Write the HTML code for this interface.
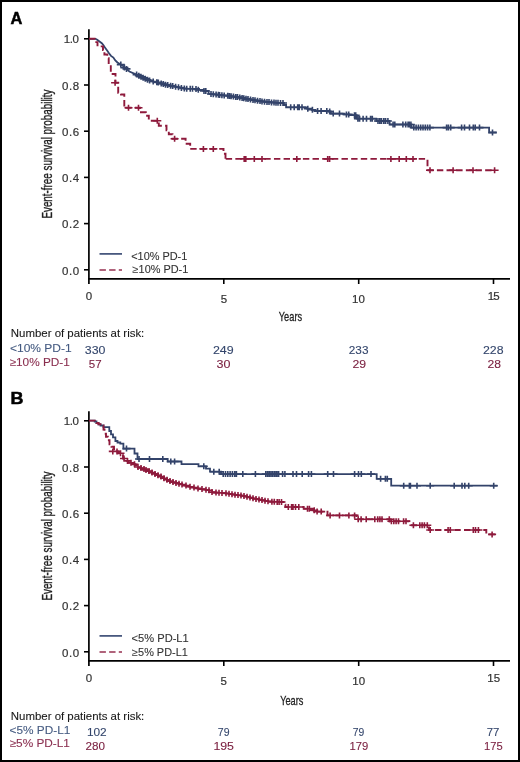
<!DOCTYPE html>
<html><head><meta charset="utf-8"><style>
html,body{margin:0;padding:0;background:#fff;}
body{width:520px;height:762px;overflow:hidden;}
svg{display:block;font-family:"Liberation Sans",sans-serif;will-change:transform;}
</style></head><body>
<svg width="520" height="762" viewBox="0 0 520 762">
<rect x="0" y="0" width="520" height="762" fill="#fff"/>
<path d="M88.9,29.2V284" stroke="#000" stroke-width="1.7" fill="none"/>
<path d="M88,278.9H510" stroke="#000" stroke-width="1.8" fill="none"/>
<path d="M84,269.8H89" stroke="#000" stroke-width="1.6" fill="none"/>
<path d="M84,223.6H89" stroke="#000" stroke-width="1.6" fill="none"/>
<path d="M84,177.4H89" stroke="#000" stroke-width="1.6" fill="none"/>
<path d="M84,131.2H89" stroke="#000" stroke-width="1.6" fill="none"/>
<path d="M84,85H89" stroke="#000" stroke-width="1.6" fill="none"/>
<path d="M84,38.8H89" stroke="#000" stroke-width="1.6" fill="none"/>
<path d="M223.8,279V284" stroke="#000" stroke-width="1.6" fill="none"/>
<path d="M358.7,279V284" stroke="#000" stroke-width="1.6" fill="none"/>
<path d="M493.5,279V284" stroke="#000" stroke-width="1.6" fill="none"/>
<text x="62.10" y="274.55" font-size="11.5" fill="#333" stroke="#333" stroke-width="0.2" textLength="17.00" lengthAdjust="spacing">0.0</text>
<text x="62.10" y="228.35" font-size="11.5" fill="#333" stroke="#333" stroke-width="0.2" textLength="17.00" lengthAdjust="spacing">0.2</text>
<text x="62.10" y="182.15" font-size="11.5" fill="#333" stroke="#333" stroke-width="0.2" textLength="17.00" lengthAdjust="spacing">0.4</text>
<text x="62.10" y="135.95" font-size="11.5" fill="#333" stroke="#333" stroke-width="0.2" textLength="17.00" lengthAdjust="spacing">0.6</text>
<text x="62.10" y="89.75" font-size="11.5" fill="#333" stroke="#333" stroke-width="0.2" textLength="17.00" lengthAdjust="spacing">0.8</text>
<text x="63.80" y="42.85" font-size="11.5" fill="#333" stroke="#333" stroke-width="0.2" textLength="15.00" lengthAdjust="spacing">1.0</text>
<text transform="translate(52.30,218.60) rotate(-90)" font-size="14" fill="#222" stroke="#222" stroke-width="0.35" textLength="129.00" lengthAdjust="spacingAndGlyphs">Event-free survival probability</text>
<path d="M99.5,253.9H122" stroke="#3f5078" stroke-width="1.7" fill="none"/>
<path d="M99.5,270H122" stroke="#973050" stroke-width="1.7" stroke-dasharray="6.4 3.25" fill="none"/>
<path d="M89,38.8 L95.5,38.8 L97.2,39.8 L99.5,41.5 L101.8,43.2 L103.5,45.2 L105.3,48.1 L107.3,50.7 L109,53.3 L111,55.9 L113.4,57.6 L115.1,60.2 L117.4,62.5 L120.3,64.3 L122.8,65.6 L124.3,67.5 L126.6,69 L129.4,71.5 L136.6,74.6 L143.9,78.2 L151,81.1 L158.3,82.5 L165.5,84.7 L172.7,86.1 L180,87.6 L185,88.7 L197,88.9 L197,89.8 L203.5,89.8 L203.5,91 L208.6,91 L208.6,93.8 L215,94.4 L220,95 L228,95.8 L240,97.5 L251.5,99.8 L263,101.5 L274.6,102.7 L283.8,103 L283.8,105 L286.1,105 L286.1,107.3 L306.7,107.3 L306.7,108.7 L311.8,108.7 L311.8,109.8 L314.7,109.8 L314.7,111 L328.6,111 L328.6,111.5 L330.9,111.5 L330.9,113.6 L344.1,113.6 L344.1,114.4 L349.3,114.4 L349.3,115.2 L356.7,115.2 L356.7,118.7 L376.3,118.7 L376.3,121 L389.6,121 L389.6,124.5 L411.5,124.5 L411.5,127.6 L489.1,127.6 L489.1,132.5 L496.8,132.5" stroke="#33436a" stroke-width="1.8" fill="none" stroke-linejoin="miter"/>
<path d="M120.8,61.6v6M116.8,64.6h8M124.4,64.6v6M120.4,67.6h8M126.5,65.9v6M122.5,68.9h8M136.6,71.6v6M132.6,74.6h8M138.8,72.7v6M134.8,75.7h8M141,73.8v6M137,76.8h8M143.1,74.8v6M139.1,77.8h8M145.3,75.8v6M141.3,78.8h8M147.5,76.7v6M143.5,79.7h8M149.6,77.5v6M145.6,80.5h8M153.2,78.5v6M149.2,81.5h8M156.8,79.2v6M152.8,82.2h8M158.3,79.5v6M154.3,82.5h8M161.2,80.4v6M157.2,83.4h8M163.3,81v6M159.3,84h8M165.5,81.7v6M161.5,84.7h8M167.7,82.1v6M163.7,85.1h8M170.6,82.7v6M166.6,85.7h8M172.7,83.1v6M168.7,86.1h8M175.6,83.7v6M171.6,86.7h8M178.5,84.3v6M174.5,87.3h8M181.4,84.9v6M177.4,87.9h8M184.3,85.5v6M180.3,88.5h8M186.7,85.7v6M182.7,88.7h8M190.2,85.8v6M186.2,88.8h8M192.5,85.8v6M188.5,88.8h8M196,85.9v6M192,88.9h8M198.3,86.8v6M194.3,89.8h8M204,88v6M200,91h8M205.8,88v6M201.8,91h8M211,91v6M207,94h8M213.3,91.2v6M209.3,94.2h8M216.1,91.5v6M212.1,94.5h8M218.4,91.8v6M214.4,94.8h8M219.6,92v6M215.6,95h8M221.9,92.2v6M217.9,95.2h8M224.2,92.4v6M220.2,95.4h8M227.7,92.8v6M223.7,95.8h8M229.4,93v6M225.4,96h8M231.1,93.2v6M227.1,96.2h8M233.4,93.6v6M229.4,96.6h8M235.7,93.9v6M231.7,96.9h8M237.5,94.1v6M233.5,97.1h8M239.8,94.5v6M235.8,97.5h8M242.1,94.9v6M238.1,97.9h8M243.8,95.3v6M239.8,98.3h8M246,95.7v6M242,98.7h8M248,96.1v6M244,99.1h8M250.5,96.6v6M246.5,99.6h8M253,97v6M249,100h8M255,97.3v6M251,100.3h8M257.5,97.7v6M253.5,100.7h8M260,98.1v6M256,101.1h8M262,98.4v6M258,101.4h8M264.5,98.7v6M260.5,101.7h8M267,98.9v6M263,101.9h8M269,99.1v6M265,102.1h8M271.5,99.4v6M267.5,102.4h8M274,99.6v6M270,102.6h8M276,99.7v6M272,102.7h8M278,99.8v6M274,102.8h8M280.5,99.9v6M276.5,102.9h8M283,100v6M279,103h8M290.7,104.3v6M286.7,107.3h8M294.2,104.3v6M290.2,107.3h8M297.7,104.3v6M293.7,107.3h8M299.2,104.3v6M295.2,107.3h8M302,104.3v6M298,107.3h8M307.8,105.7v6M303.8,108.7h8M312.4,106.8v6M308.4,109.8h8M317.6,108v6M313.6,111h8M321.1,108v6M317.1,111h8M326.8,108v6M322.8,111h8M329.7,108.5v6M325.7,111.5h8M333.2,110.6v6M329.2,113.6h8M339.5,110.6v6M335.5,113.6h8M346.4,111.4v6M342.4,114.4h8M348.7,111.4v6M344.7,114.4h8M354.5,112.2v6M350.5,115.2h8M355.7,112.2v6M351.7,115.2h8M357.9,115.7v6M353.9,118.7h8M359.6,115.7v6M355.6,118.7h8M363.1,115.7v6M359.1,118.7h8M366.5,115.7v6M362.5,118.7h8M370.6,115.7v6M366.6,118.7h8M372.3,115.7v6M368.3,118.7h8M378,118v6M374,121h8M379.8,118v6M375.8,121h8M381.5,118v6M377.5,121h8M383.8,118v6M379.8,121h8M385.6,118v6M381.6,121h8M387.9,118v6M383.9,121h8M393.1,121.5v6M389.1,124.5h8M394.8,121.5v6M390.8,124.5h8M402.9,121.5v6M398.9,124.5h8M405.7,121.5v6M401.7,124.5h8M408.1,121.5v6M404.1,124.5h8M409.2,121.5v6M405.2,124.5h8M410.9,121.5v6M406.9,124.5h8M413.8,124.6v6M409.8,127.6h8M416.1,124.6v6M412.1,127.6h8M418.4,124.6v6M414.4,127.6h8M420.7,124.6v6M416.7,127.6h8M423,124.6v6M419,127.6h8M425.3,124.6v6M421.3,127.6h8M427.6,124.6v6M423.6,127.6h8M429.9,124.6v6M425.9,127.6h8M446.6,124.6v6M442.6,127.6h8M448.4,124.6v6M444.4,127.6h8M450.7,124.6v6M446.7,127.6h8M461.6,124.6v6M457.6,127.6h8M464.5,124.6v6M460.5,127.6h8M469.5,124.6v6M465.5,127.6h8M473.3,124.6v6M469.3,127.6h8M475.2,124.6v6M471.2,127.6h8M479.5,124.6v6M475.5,127.6h8M492.5,129.5v6M488.5,132.5h8" stroke="#33436a" stroke-width="1.6" fill="none"/>
<path d="M89,38.8 L94.6,38.8 L94.6,42.1 L97.5,42.1 L97.5,46.4 L103,46.4 L103,50 L104.4,50 L104.4,54.5 L107.3,54.5 L107.3,58.2 L108.7,58.2 L108.7,65 L110.8,65 L110.8,74 L115.5,74 L115.5,82.8 L118.2,82.8 L118.2,92.8 L121,92.8 L121,94.5 L124.3,94.5 L124.3,107.8" stroke="#8e1a3c" stroke-width="1.9" fill="none" stroke-dasharray="6.4 3.25" stroke-dashoffset="0.00"/>
<path d="M124.3,107.8 L140,107.8 L140,112.3 L145.8,112.3 L145.8,115.8 L148.8,115.8 L148.8,120.8 L158.8,120.8 L158.8,125.8 L166.5,125.8 L166.5,130.2 L168.8,130.2 L168.8,134.2 L172.5,134.2 L172.5,138.7 L185.6,138.7 L185.6,143.8 L190.2,143.8 L190.2,148.9 L223.5,148.9 L223.5,153.8 L225.5,153.8 L225.5,158.9" stroke="#8e1a3c" stroke-width="1.9" fill="none" stroke-dasharray="6.4 3.25" stroke-dashoffset="8.75"/>
<path d="M225.5,158.9 L427.5,158.9 L427.5,170.2" stroke="#8e1a3c" stroke-width="1.9" fill="none" stroke-dasharray="6.4 3.25" stroke-dashoffset="9.45"/>
<path d="M427.5,170.2 L495,170.2" stroke="#8e1a3c" stroke-width="1.9" fill="none" stroke-dasharray="6.4 3.25" stroke-dashoffset="0.25"/>
<path d="M115.1,79.8v6M111.1,82.8h8M128.5,104.8v6M124.5,107.8h8M138.5,104.8v6M134.5,107.8h8M157.3,117.8v6M153.3,120.8h8M174.6,135.7v6M170.6,138.7h8M203.4,145.9v6M199.4,148.9h8M213.3,145.9v6M209.3,148.9h8M244.2,155.9v6M240.2,158.9h8M245.8,155.9v6M241.8,158.9h8M254.3,155.9v6M250.3,158.9h8M262,155.9v6M258,158.9h8M296.8,155.9v6M292.8,158.9h8M327.7,155.9v6M323.7,158.9h8M329.6,155.9v6M325.6,158.9h8M390.9,155.9v6M386.9,158.9h8M399.2,155.9v6M395.2,158.9h8M406.3,155.9v6M402.3,158.9h8M413,155.9v6M409,158.9h8M430,167.2v6M426,170.2h8M453.1,167.2v6M449.1,170.2h8M473,167.2v6M469,170.2h8M494.6,167.2v6M490.6,170.2h8" stroke="#8e1a3c" stroke-width="1.6" fill="none"/>
<text x="10.50" y="24.08" font-size="17.4" fill="#000" font-weight="bold" stroke="#000" stroke-width="0.5" textLength="11.85" lengthAdjust="spacingAndGlyphs">A</text>
<text x="10.40" y="404.48" font-size="17.4" fill="#000" font-weight="bold" stroke="#000" stroke-width="0.5" textLength="13.00" lengthAdjust="spacingAndGlyphs">B</text>
<text x="85.70" y="299.95" font-size="11.5" fill="#333" font-weight="normal" stroke="#333" stroke-width="0.2" textLength="7.41" lengthAdjust="spacing">0</text>
<text x="220.70" y="302.85" font-size="11.5" fill="#333" font-weight="normal" stroke="#333" stroke-width="0.2" textLength="7.41" lengthAdjust="spacing">5</text>
<text x="352.10" y="303.05" font-size="11.5" fill="#333" font-weight="normal" stroke="#333" stroke-width="0.2" textLength="12.80" lengthAdjust="spacing">10</text>
<text x="487.80" y="299.95" font-size="11.5" fill="#333" font-weight="normal" stroke="#333" stroke-width="0.2" textLength="11.80" lengthAdjust="spacing">15</text>
<text x="352.30" y="685.25" font-size="11.5" fill="#333" font-weight="normal" stroke="#333" stroke-width="0.2" textLength="12.80" lengthAdjust="spacing">10</text>
<text x="487.30" y="682.15" font-size="11.5" fill="#333" font-weight="normal" stroke="#333" stroke-width="0.2" textLength="12.80" lengthAdjust="spacing">15</text>
<text x="85.70" y="682.45" font-size="11.5" fill="#333" font-weight="normal" stroke="#333" stroke-width="0.2" textLength="7.41" lengthAdjust="spacing">0</text>
<text x="220.50" y="685.45" font-size="11.5" fill="#333" font-weight="normal" stroke="#333" stroke-width="0.2" textLength="17.41" lengthAdjust="spacing">5</text>
<text x="278.80" y="321.22" font-size="13.6" fill="#222" font-weight="normal" stroke="#222" stroke-width="0.3" textLength="23.27" lengthAdjust="spacingAndGlyphs">Years</text>
<text x="280.20" y="704.52" font-size="13.6" fill="#222" font-weight="normal" stroke="#222" stroke-width="0.3" textLength="23.21" lengthAdjust="spacingAndGlyphs">Years</text>
<text x="131.20" y="260.05" font-size="10.5" fill="#333" font-weight="normal" stroke="#333" stroke-width="0.1" textLength="56.16" lengthAdjust="spacingAndGlyphs">&lt;10% PD-1</text>
<text x="132.60" y="273.15" font-size="10.5" fill="#333" font-weight="normal" stroke="#333" stroke-width="0.1" textLength="55.65" lengthAdjust="spacingAndGlyphs">≥10% PD-1</text>
<text x="131.60" y="642.25" font-size="10.5" fill="#333" font-weight="normal" stroke="#333" stroke-width="0.1" textLength="57.12" lengthAdjust="spacingAndGlyphs">&lt;5% PD-L1</text>
<text x="132.10" y="655.75" font-size="10.5" fill="#333" font-weight="normal" stroke="#333" stroke-width="0.1" textLength="55.67" lengthAdjust="spacingAndGlyphs">≥5% PD-L1</text>
<text x="10.80" y="337.30" font-size="11" fill="#1a1a1a" font-weight="normal" stroke="#1a1a1a" stroke-width="0.1" textLength="133.49" lengthAdjust="spacingAndGlyphs">Number of patients at risk:</text>
<text x="10.80" y="719.50" font-size="11" fill="#1a1a1a" font-weight="normal" stroke="#1a1a1a" stroke-width="0.1" textLength="133.49" lengthAdjust="spacingAndGlyphs">Number of patients at risk:</text>
<text x="10.00" y="352.30" font-size="11" fill="#445a80" font-weight="normal" stroke="#445a80" stroke-width="0.1" textLength="61.72" lengthAdjust="spacingAndGlyphs">&lt;10% PD-1</text>
<text x="9.50" y="366.00" font-size="11" fill="#8a2f50" font-weight="normal" stroke="#8a2f50" stroke-width="0.1" textLength="60.33" lengthAdjust="spacingAndGlyphs">≥10% PD-1</text>
<text x="9.60" y="734.20" font-size="11" fill="#445a80" font-weight="normal" stroke="#445a80" stroke-width="0.1" textLength="60.69" lengthAdjust="spacingAndGlyphs">&lt;5% PD-L1</text>
<text x="9.60" y="747.00" font-size="11" fill="#8a2f50" font-weight="normal" stroke="#8a2f50" stroke-width="0.1" textLength="60.33" lengthAdjust="spacingAndGlyphs">≥5% PD-L1</text>
<text x="84.80" y="353.80" font-size="11" fill="#34466c" font-weight="normal" stroke="#34466c" stroke-width="0.1" textLength="20.63" lengthAdjust="spacingAndGlyphs">330</text>
<text x="88.80" y="368.00" font-size="11" fill="#7c2242" font-weight="normal" stroke="#7c2242" stroke-width="0.1" textLength="12.84" lengthAdjust="spacingAndGlyphs">57</text>
<text x="212.90" y="353.70" font-size="11" fill="#34466c" font-weight="normal" stroke="#34466c" stroke-width="0.1" textLength="20.72" lengthAdjust="spacingAndGlyphs">249</text>
<text x="216.50" y="367.90" font-size="11" fill="#7c2242" font-weight="normal" stroke="#7c2242" stroke-width="0.1" textLength="13.92" lengthAdjust="spacingAndGlyphs">30</text>
<text x="348.80" y="353.80" font-size="11" fill="#34466c" font-weight="normal" stroke="#34466c" stroke-width="0.1" textLength="19.66" lengthAdjust="spacingAndGlyphs">233</text>
<text x="352.40" y="368.20" font-size="11" fill="#7c2242" font-weight="normal" stroke="#7c2242" stroke-width="0.1" textLength="13.62" lengthAdjust="spacingAndGlyphs">29</text>
<text x="483.00" y="353.70" font-size="11" fill="#34466c" font-weight="normal" stroke="#34466c" stroke-width="0.1" textLength="20.57" lengthAdjust="spacingAndGlyphs">228</text>
<text x="487.40" y="368.20" font-size="11" fill="#7c2242" font-weight="normal" stroke="#7c2242" stroke-width="0.1" textLength="13.54" lengthAdjust="spacingAndGlyphs">28</text>
<text x="86.90" y="736.20" font-size="11" fill="#34466c" font-weight="normal" stroke="#34466c" stroke-width="0.1" textLength="19.81" lengthAdjust="spacingAndGlyphs">102</text>
<text x="85.50" y="750.00" font-size="11" fill="#7c2242" font-weight="normal" stroke="#7c2242" stroke-width="0.1" textLength="19.50" lengthAdjust="spacingAndGlyphs">280</text>
<text x="217.80" y="736.20" font-size="11" fill="#34466c" font-weight="normal" stroke="#34466c" stroke-width="0.1" textLength="11.71" lengthAdjust="spacingAndGlyphs">79</text>
<text x="213.40" y="750.30" font-size="11" fill="#7c2242" font-weight="normal" stroke="#7c2242" stroke-width="0.1" textLength="20.60" lengthAdjust="spacingAndGlyphs">195</text>
<text x="352.80" y="736.20" font-size="11" fill="#34466c" font-weight="normal" stroke="#34466c" stroke-width="0.1" textLength="11.55" lengthAdjust="spacingAndGlyphs">79</text>
<text x="349.60" y="750.30" font-size="11" fill="#7c2242" font-weight="normal" stroke="#7c2242" stroke-width="0.1" textLength="18.79" lengthAdjust="spacingAndGlyphs">179</text>
<text x="486.70" y="736.20" font-size="11" fill="#34466c" font-weight="normal" stroke="#34466c" stroke-width="0.1" textLength="12.73" lengthAdjust="spacingAndGlyphs">77</text>
<text x="484.10" y="750.30" font-size="11" fill="#7c2242" font-weight="normal" stroke="#7c2242" stroke-width="0.1" textLength="18.70" lengthAdjust="spacingAndGlyphs">175</text>
<path d="M88.9,411.2V666" stroke="#000" stroke-width="1.7" fill="none"/>
<path d="M88,660.9H510" stroke="#000" stroke-width="1.8" fill="none"/>
<path d="M84,651.8H89" stroke="#000" stroke-width="1.6" fill="none"/>
<path d="M84,605.6H89" stroke="#000" stroke-width="1.6" fill="none"/>
<path d="M84,559.4H89" stroke="#000" stroke-width="1.6" fill="none"/>
<path d="M84,513.2H89" stroke="#000" stroke-width="1.6" fill="none"/>
<path d="M84,467H89" stroke="#000" stroke-width="1.6" fill="none"/>
<path d="M84,420.8H89" stroke="#000" stroke-width="1.6" fill="none"/>
<path d="M223.8,661V666" stroke="#000" stroke-width="1.6" fill="none"/>
<path d="M358.7,661V666" stroke="#000" stroke-width="1.6" fill="none"/>
<path d="M493.5,661V666" stroke="#000" stroke-width="1.6" fill="none"/>
<text x="62.10" y="656.55" font-size="11.5" fill="#333" stroke="#333" stroke-width="0.2" textLength="17.00" lengthAdjust="spacing">0.0</text>
<text x="62.10" y="610.35" font-size="11.5" fill="#333" stroke="#333" stroke-width="0.2" textLength="17.00" lengthAdjust="spacing">0.2</text>
<text x="62.10" y="564.15" font-size="11.5" fill="#333" stroke="#333" stroke-width="0.2" textLength="17.00" lengthAdjust="spacing">0.4</text>
<text x="62.10" y="517.95" font-size="11.5" fill="#333" stroke="#333" stroke-width="0.2" textLength="17.00" lengthAdjust="spacing">0.6</text>
<text x="62.10" y="471.75" font-size="11.5" fill="#333" stroke="#333" stroke-width="0.2" textLength="17.00" lengthAdjust="spacing">0.8</text>
<text x="63.80" y="424.85" font-size="11.5" fill="#333" stroke="#333" stroke-width="0.2" textLength="15.00" lengthAdjust="spacing">1.0</text>
<text transform="translate(52.30,600.60) rotate(-90)" font-size="14" fill="#222" stroke="#222" stroke-width="0.35" textLength="129.00" lengthAdjust="spacingAndGlyphs">Event-free survival probability</text>
<path d="M99.5,635.9H122" stroke="#3f5078" stroke-width="1.7" fill="none"/>
<path d="M99.5,652H122" stroke="#973050" stroke-width="1.7" stroke-dasharray="6.4 3.25" fill="none"/>
<path d="M89,420.6 L94.7,420.6 L94.7,421.5 L96.5,421.5 L96.5,423 L98.5,423 L98.5,424.3 L100.5,424.3 L100.5,425.5 L103.5,425.5 L103.5,427.2 L109.3,427.2 L109.3,431 L111,431 L111,434.3 L113,434.3 L113,437.3 L115.4,437.3 L115.4,441 L117.5,441 L117.5,442.5 L120.3,442.5 L120.3,443.7 L123.4,443.7 L123.4,448.6 L134.5,448.6 L134.5,453.5 L137.5,453.5 L137.5,459 L167.7,459 L167.7,461.5 L181.5,461.5 L181.5,464.2 L198.5,464.2 L198.5,466.3 L206,466.3 L206,468.7 L210,468.7 L210,471.7 L221,471.7 L221,474.1 L376.7,474.1 L376.7,478.8 L391.2,478.8 L391.2,485.7 L497.5,485.7" stroke="#33436a" stroke-width="1.8" fill="none" stroke-linejoin="miter"/>
<path d="M126.5,445.6v6M122.5,448.6h8M139,456v6M135,459h8M149.5,456v6M145.5,459h8M162.8,456v6M158.8,459h8M170.8,458.5v6M166.8,461.5h8M174.6,458.5v6M170.6,461.5h8M203.8,463.3v6M199.8,466.3h8M213.8,468.7v6M209.8,471.7h8M219.2,468.7v6M215.2,471.7h8M223.2,471.1v6M219.2,474.1h8M225.5,471.1v6M221.5,474.1h8M227.8,471.1v6M223.8,474.1h8M230.1,471.1v6M226.1,474.1h8M232.4,471.1v6M228.4,474.1h8M234.7,471.1v6M230.7,474.1h8M236.4,471.1v6M232.4,474.1h8M242.8,471.1v6M238.8,474.1h8M255.4,471.1v6M251.4,474.1h8M265.8,471.1v6M261.8,474.1h8M267.6,471.1v6M263.6,474.1h8M269.3,471.1v6M265.3,474.1h8M271,471.1v6M267,474.1h8M272.7,471.1v6M268.7,474.1h8M274.5,471.1v6M270.5,474.1h8M276.2,471.1v6M272.2,474.1h8M277.9,471.1v6M273.9,474.1h8M278.6,471.1v6M274.6,474.1h8M282.6,471.1v6M278.6,474.1h8M284.9,471.1v6M280.9,474.1h8M293,471.1v6M289,474.1h8M296.5,471.1v6M292.5,474.1h8M302.2,471.1v6M298.2,474.1h8M308.6,471.1v6M304.6,474.1h8M311.4,471.1v6M307.4,474.1h8M327.7,471.1v6M323.7,474.1h8M333.5,471.1v6M329.5,474.1h8M354.6,471.1v6M350.6,474.1h8M358.5,471.1v6M354.5,474.1h8M361.3,471.1v6M357.3,474.1h8M371,471.1v6M367,474.1h8M380.6,475.8v6M376.6,478.8h8M385.4,475.8v6M381.4,478.8h8M387.3,475.8v6M383.3,478.8h8M403.7,482.7v6M399.7,485.7h8M409.4,482.7v6M405.4,485.7h8M410.4,482.7v6M406.4,485.7h8M417,482.7v6M413,485.7h8M430.2,482.7v6M426.2,485.7h8M454.2,482.7v6M450.2,485.7h8M462,482.7v6M458,485.7h8M464.8,482.7v6M460.8,485.7h8M468.7,482.7v6M464.7,485.7h8M493.7,482.7v6M489.7,485.7h8" stroke="#33436a" stroke-width="1.6" fill="none"/>
<path d="M89,420.6 L94.7,420.6 L94.7,421.5 L96.5,421.5 L96.5,423 L98.5,423 L98.5,424.3 L100.5,424.3 L100.5,425.5 L103.5,425.5 L103.5,429.5 L104.5,429.5 L104.5,433.8 L106,433.8 L106,436.8 L107.8,436.8 L107.8,440.3 L109.5,440.3 L109.5,444.3 L111.5,444.3 L111.5,446.8 L114,446.8 L114,449.2 L115.5,449.2 L115.5,451.4 L118.2,451.4 L118.2,453.2 L121,453.2 L121,455.1 L123,455.1 L123,458.5 L125.5,458.5 L125.5,460.9 L128.5,460.9 L128.5,462.8 L132.2,462.8 L132.2,464.3 L135.5,464.3 L135.5,465.2 L138,465.2 L138,467 L140.8,467.9 L148.5,470.8 L153.3,473.2 L160,476 L164.6,478.6 L170.8,481.5 L183,484.8 L190.8,487 L198.5,488.5 L209.2,490.3 L212.3,492.3 L226.2,493.3 L234.6,494.6 L244.2,496 L253.8,498.5 L263.5,500.4 L270,501.7 L283.5,502 L283.5,504.6 L285.4,504.6 L285.4,507 L303.7,507 L303.7,508.8 L312.3,508.8 L312.3,510.2 L316,510.2 L316,511.6 L327.5,511.6 L327.5,515.4 L356.5,515.4 L356.5,519.3 L389.8,519.3 L389.8,521.3 L409.4,521.3 L409.4,525.3" stroke="#8e1a3c" stroke-width="1.9" fill="none" stroke-dasharray="6.4 3.25" stroke-dashoffset="0.00"/>
<path d="M409.4,525.3 L429,525.3 L429,530 L486.3,530 L486.3,534.4 L497.5,534.4" stroke="#8e1a3c" stroke-width="1.9" fill="none" stroke-dasharray="6.4 3.25" stroke-dashoffset="8.25"/>
<path d="M112.8,448.4v6M108.8,451.4h8M117,448.4v6M113,451.4h8M120.5,450.2v6M116.5,453.2h8M124,455.5v6M120,458.5h8M127.5,457.9v6M123.5,460.9h8M131,459.8v6M127,462.8h8M134.5,461.3v6M130.5,464.3h8M138,464v6M134,467h8M141,465v6M137,468h8M144,466.1v6M140,469.1h8M146,466.9v6M142,469.9h8M149,468.1v6M145,471.1h8M152,469.6v6M148,472.6h8M155,470.9v6M151,473.9h8M158,472.2v6M154,475.2h8M161,473.6v6M157,476.6h8M164,475.3v6M160,478.3h8M167,476.7v6M163,479.7h8M170,478.1v6M166,481.1h8M173,479.1v6M169,482.1h8M176,479.9v6M172,482.9h8M179,480.7v6M175,483.7h8M182,481.5v6M178,484.5h8M186,482.6v6M182,485.6h8M190,483.8v6M186,486.8h8M194,484.6v6M190,487.6h8M198,485.4v6M194,488.4h8M202,486.1v6M198,489.1h8M206,486.8v6M202,489.8h8M209,487.3v6M205,490.3h8M212,489.1v6M208,492.1h8M216,489.6v6M212,492.6h8M219,489.8v6M215,492.8h8M222,490v6M218,493h8M226,490.3v6M222,493.3h8M229,490.7v6M225,493.7h8M232,491.2v6M228,494.2h8M235,491.7v6M231,494.7h8M238,492.1v6M234,495.1h8M241,492.5v6M237,495.5h8M244,493v6M240,496h8M247,493.7v6M243,496.7h8M250,494.5v6M246,497.5h8M253,495.3v6M249,498.3h8M256,495.9v6M252,498.9h8M259,496.5v6M255,499.5h8M262,497.1v6M258,500.1h8M265,497.7v6M261,500.7h8M268,498.3v6M264,501.3h8M271.9,498.7v6M267.9,501.7h8M274.3,498.8v6M270.3,501.8h8M277.2,498.9v6M273.2,501.9h8M279.1,498.9v6M275.1,501.9h8M281.5,499v6M277.5,502h8M288.3,504v6M284.3,507h8M291.6,504v6M287.6,507h8M293,504v6M289,507h8M295.5,504v6M291.5,507h8M298.8,504v6M294.8,507h8M307.5,505.8v6M303.5,508.8h8M309.4,505.8v6M305.4,508.8h8M314.2,507.2v6M310.2,510.2h8M317.1,508.6v6M313.1,511.6h8M321.2,508.6v6M317.2,511.6h8M330.1,512.4v6M326.1,515.4h8M339.5,512.4v6M335.5,515.4h8M348.9,512.4v6M344.9,515.4h8M354.6,512.4v6M350.6,515.4h8M358.2,516.3v6M354.2,519.3h8M361.1,516.3v6M357.1,519.3h8M366.2,516.3v6M362.2,519.3h8M374.8,516.3v6M370.8,519.3h8M377.7,516.3v6M373.7,519.3h8M379.9,516.3v6M375.9,519.3h8M382,516.3v6M378,519.3h8M389.3,516.3v6M385.3,519.3h8M391.4,518.3v6M387.4,521.3h8M393.8,518.3v6M389.8,521.3h8M396.1,518.3v6M392.1,521.3h8M398.5,518.3v6M394.5,521.3h8M403.6,518.3v6M399.6,521.3h8M406,518.3v6M402,521.3h8M413.4,522.3v6M409.4,525.3h8M419.8,522.3v6M415.8,525.3h8M422.1,522.3v6M418.1,525.3h8M424.4,522.3v6M420.4,525.3h8M427.3,522.3v6M423.3,525.3h8M430.2,527v6M426.2,530h8M448.1,527v6M444.1,530h8M450.3,527v6M446.3,530h8M473.3,527v6M469.3,530h8M475.5,527v6M471.5,530h8M478.4,527v6M474.4,530h8M492.1,531.4v6M488.1,534.4h8" stroke="#8e1a3c" stroke-width="1.6" fill="none"/>
<rect x="1" y="1" width="518" height="760" fill="none" stroke="#000" stroke-width="2"/>
</svg>
</body></html>
